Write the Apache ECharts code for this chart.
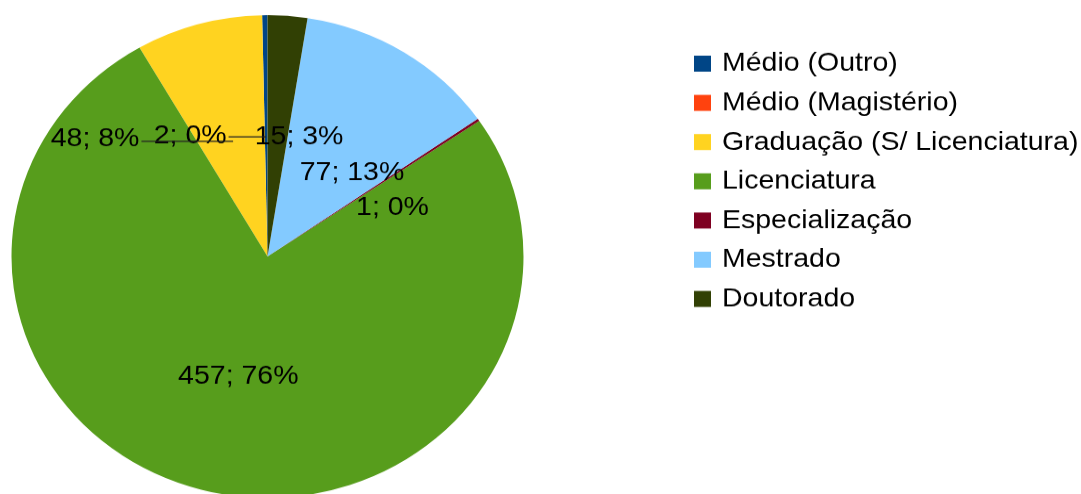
<!DOCTYPE html>
<html>
<head>
<meta charset="utf-8">
<script src="https://cdn.jsdelivr.net/npm/echarts@6/dist/echarts.min.js"></script>
<style>
  html, body { margin: 0; padding: 0; background: #fff; overflow: hidden; }
  #c { width: 1081px; height: 524px; transform: scaleY(0.9427); transform-origin: 0 0; }
</style>
</head>
<body>
<div id="c"></div>
<script>
// ---- data ----
const categories = ['Médio (Outro)', 'Médio (Magistério)', 'Graduação (S/ Licenciatura)', 'Licenciatura', 'Especialização', 'Mestrado', 'Doutorado'];
const values = [2, 0, 48, 457, 1, 77, 15];
const colors = ['#004586', '#ff420e', '#ffd320', '#579d1c', '#7e0021', '#83caff', '#314004'];

// ---- presentation ----
const total = values.reduce((a, b) => a + b, 0);
const FONT = 'Liberation Sans';
const FONT_SIZE = 28.5;
// label displacement from the default inside position (unscaled px)
const labelShift = [[-76, 0], [0, 0], [-138, -2], [-0.6, 2.7], [19.5, 20.5], [16.5, 19.1], [21.5, 1]];
const withLine = [true, false, true, false, false, false, false];

function labelText(i) {
  return values[i] + '; ' + Math.round(values[i] / total * 100) + '%';
}
const measureCtx = document.createElement('canvas').getContext('2d');
measureCtx.font = FONT_SIZE + 'px "' + FONT + '"';

const chart = echarts.init(document.getElementById('c'), null, { renderer: 'canvas' });

function pieAnchor(i) {
  const lay = chart.getModel().getSeriesByIndex(0).getData().getItemLayout(i);
  const mid = (lay.startAngle + lay.endAngle) / 2;
  const px = lay.cx + Math.cos(mid) * lay.r / 2;
  const py = lay.cy + Math.sin(mid) * lay.r / 2;
  return { px: px, py: py, x: px + labelShift[i][0], y: py + labelShift[i][1] };
}

const seriesData = categories.map((name, i) => ({
  name: name,
  value: values[i],
  itemStyle: { color: colors[i] },
  label: { show: values[i] > 0 }
}));

const lineItems = categories.map((c, i) => i).filter(i => withLine[i]).map(i => [i]);

chart.setOption({
  animation: false,
  backgroundColor: '#ffffff',
  legend: {
    orient: 'vertical',
    left: 694,
    top: 53,
    padding: 0,
    itemWidth: 17,
    itemHeight: 17,
    itemGap: 12.6,
    icon: 'rect',
    data: categories,
    selectedMode: false,
    textStyle: {
      fontFamily: FONT,
      fontSize: FONT_SIZE,
      color: '#000',
      padding: [0, 0, 0, 6]
    }
  },
  series: [{
    type: 'pie',
    z: 2,
    center: [267.5, 272.1],
    radius: [0, 256],
    startAngle: 90,
    clockwise: false,
    avoidLabelOverlap: false,
    minShowLabelAngle: 0,
    itemStyle: { borderWidth: 0 },
    emphasis: { disabled: true },
    label: {
      show: true,
      position: 'outside',
      overflow: 'none',
      fontFamily: FONT,
      fontSize: FONT_SIZE,
      color: '#000',
      formatter: p => labelText(p.dataIndex)
    },
    labelLine: { show: false },
    labelLayout: function (p) {
      const a = pieAnchor(p.dataIndex);
      return { x: a.x, y: a.y, align: 'center', verticalAlign: 'middle' };
    },
    data: seriesData
  }, {
    type: 'custom',
    coordinateSystem: 'none',
    z: 3,
    silent: true,
    data: lineItems,
    renderItem: function (params, api) {
      const i = api.value(0);
      const a = pieAnchor(i);
      const hw = measureCtx.measureText(labelText(i)).width / 2;
      const ex = labelShift[i][0] < 0 ? a.x + hw + 2 : a.x - hw - 2;
      return {
        type: 'polyline',
        shape: { points: [[ex, a.py + 1], [a.px, a.py + 1]] },
        style: { stroke: '#222222', lineWidth: 1.2, fill: null }
      };
    }
  }]
});
</script>
</body>
</html>
